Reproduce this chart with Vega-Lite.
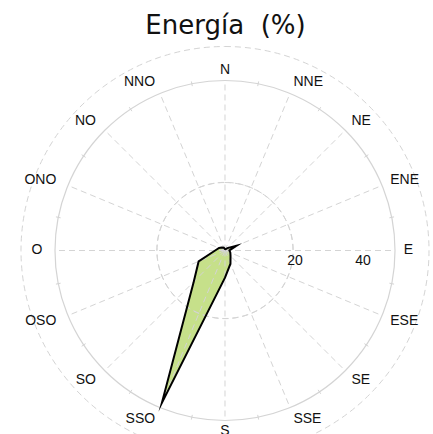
{
  "$schema": "https://vega.github.io/schema/vega-lite/v6.json",
  "width": 433,
  "height": 389,
  "autosize": {"type": "none"},
  "padding": {"left": 0, "right": 0, "top": 45, "bottom": 0},
  "background": "white",
  "title": {"text": "Energía\u00a0\u00a0(%)", "font": "DejaVu Sans", "fontSize": 26, "fontWeight": "normal", "color": "#111111", "anchor": "middle", "frame": "group", "baseline": "alphabetic", "offset": -16, "dx": 9},
  "config": {"view": {"stroke": null}},
  "datasets": {
    "energia": [
      {"dir": "N", "a": 0, "e": 0.4},
      {"dir": "NNE", "a": 22.5, "e": 0.4},
      {"dir": "NE", "a": 45, "e": 1.0},
      {"dir": "ENE", "a": 67.5, "e": 3.7},
      {"dir": "E", "a": 90, "e": 1.3},
      {"dir": "ESE", "a": 112.5, "e": 1.7},
      {"dir": "SE", "a": 135, "e": 2.3},
      {"dir": "SSE", "a": 157.5, "e": 4.2},
      {"dir": "S", "a": 180, "e": 8.0},
      {"dir": "SSO", "a": 202.5, "e": 48.5},
      {"dir": "SO", "a": 225, "e": 13.0},
      {"dir": "OSO", "a": 247.5, "e": 8.4},
      {"dir": "O", "a": 270, "e": 2.9},
      {"dir": "ONO", "a": 292.5, "e": 1.9},
      {"dir": "NO", "a": 315, "e": 1.2},
      {"dir": "NNO", "a": 337.5, "e": 0.9}
    ],
    "anillos": [{"r": 20}, {"r": 40}],
    "borde": [{"r": 50}],
    "marcas": [
      {"a": 11.25}, {"a": 33.75}, {"a": 56.25}, {"a": 78.75},
      {"a": 101.25}, {"a": 123.75}, {"a": 146.25}, {"a": 168.75},
      {"a": 191.25}, {"a": 213.75}, {"a": 236.25}, {"a": 258.75},
      {"a": 281.25}, {"a": 303.75}, {"a": 326.25}, {"a": 348.75}
    ],
    "escala": [{"t": "20", "r": 20}, {"t": "40", "r": 40}]
  },
  "layer": [
    {
      "data": {"name": "energia"},
      "transform": [
        {"calculate": "datum.e * sin(datum.a * PI / 180)", "as": "px"},
        {"calculate": "datum.e * cos(datum.a * PI / 180)", "as": "py"}
      ],
      "mark": {"type": "line", "interpolate": "linear-closed", "fill": "#c6e08a", "strokeWidth": 0},
      "encoding": {
        "x": {"field": "px", "type": "quantitative", "scale": {"domain": [-66.18, 61.18], "nice": false, "zero": false}, "axis": null},
        "y": {"field": "py", "type": "quantitative", "scale": {"domain": [-53.97, 60.44], "nice": false, "zero": false}, "axis": null},
        "order": {"field": "a", "type": "quantitative"}
      }
    },
    {
      "data": {"name": "anillos"},
      "transform": [{"calculate": "0", "as": "c"}],
      "mark": {"type": "arc", "theta": 0, "theta2": 7, "fill": null, "stroke": "#d4d4d4", "strokeWidth": 1, "strokeDash": [6, 4]},
      "encoding": {
        "x": {"field": "c", "type": "quantitative", "scale": {"domain": [-66.18, 61.18], "nice": false, "zero": false}, "axis": null},
        "y": {"field": "c", "type": "quantitative", "scale": {"domain": [-53.97, 60.44], "nice": false, "zero": false}, "axis": null},
        "radius": {"field": "r", "type": "quantitative", "scale": {"type": "linear", "domain": [0, 50], "range": [0, 170], "zero": true}, "legend": null}
      }
    },
    {
      "data": {"name": "borde"},
      "transform": [{"calculate": "0", "as": "c"}],
      "mark": {"type": "arc", "theta": 0, "theta2": 7, "fill": null, "stroke": "#d4d4d4", "strokeWidth": 1.2},
      "encoding": {
        "x": {"field": "c", "type": "quantitative", "scale": {"domain": [-66.18, 61.18], "nice": false, "zero": false}, "axis": null},
        "y": {"field": "c", "type": "quantitative", "scale": {"domain": [-53.97, 60.44], "nice": false, "zero": false}, "axis": null},
        "radius": {"field": "r", "type": "quantitative", "scale": {"type": "linear", "domain": [0, 50], "range": [0, 170], "zero": true}, "legend": null}
      }
    },
    {
      "data": {"name": "energia"},
      "transform": [
        {"calculate": "50 * sin(datum.a * PI / 180)", "as": "sx"},
        {"calculate": "50 * cos(datum.a * PI / 180)", "as": "sy"},
        {"calculate": "0", "as": "c"}
      ],
      "mark": {"type": "rule", "stroke": "#d4d4d4", "strokeWidth": 1, "strokeDash": [6, 4]},
      "encoding": {
        "x": {"field": "c", "type": "quantitative", "scale": {"domain": [-66.18, 61.18], "nice": false, "zero": false}, "axis": null},
        "y": {"field": "c", "type": "quantitative", "scale": {"domain": [-53.97, 60.44], "nice": false, "zero": false}, "axis": null},
        "x2": {"field": "sx"},
        "y2": {"field": "sy"}
      }
    },
    {
      "data": {"name": "marcas"},
      "transform": [
        {"calculate": "49.3 * sin(datum.a * PI / 180)", "as": "ax"},
        {"calculate": "49.3 * cos(datum.a * PI / 180)", "as": "ay"},
        {"calculate": "50.7 * sin(datum.a * PI / 180)", "as": "bx"},
        {"calculate": "50.7 * cos(datum.a * PI / 180)", "as": "by"}
      ],
      "mark": {"type": "rule", "stroke": "#d4d4d4", "strokeWidth": 1},
      "encoding": {
        "x": {"field": "ax", "type": "quantitative", "scale": {"domain": [-66.18, 61.18], "nice": false, "zero": false}, "axis": null},
        "y": {"field": "ay", "type": "quantitative", "scale": {"domain": [-53.97, 60.44], "nice": false, "zero": false}, "axis": null},
        "x2": {"field": "bx"},
        "y2": {"field": "by"}
      }
    },
    {
      "data": {"name": "energia"},
      "transform": [
        {"calculate": "datum.e * sin(datum.a * PI / 180)", "as": "px"},
        {"calculate": "datum.e * cos(datum.a * PI / 180)", "as": "py"}
      ],
      "mark": {"type": "line", "interpolate": "linear-closed", "fill": null, "stroke": "#000000", "strokeWidth": 2, "strokeJoin": "miter", "strokeMiterLimit": 20},
      "encoding": {
        "x": {"field": "px", "type": "quantitative", "scale": {"domain": [-66.18, 61.18], "nice": false, "zero": false}, "axis": null},
        "y": {"field": "py", "type": "quantitative", "scale": {"domain": [-53.97, 60.44], "nice": false, "zero": false}, "axis": null},
        "order": {"field": "a", "type": "quantitative"}
      }
    },
    {
      "data": {"name": "energia"},
      "transform": [
        {"filter": "datum.a > 0 && datum.a < 180"},
        {"calculate": "52.6 * sin(datum.a * PI / 180)", "as": "lx"},
        {"calculate": "53.8 * cos(datum.a * PI / 180)", "as": "ly"}
      ],
      "mark": {"type": "text", "font": "Liberation Sans", "fontSize": 14, "fill": "#111111", "align": "left", "baseline": "middle"},
      "encoding": {
        "x": {"field": "lx", "type": "quantitative", "scale": {"domain": [-66.18, 61.18], "nice": false, "zero": false}, "axis": null},
        "y": {"field": "ly", "type": "quantitative", "scale": {"domain": [-53.97, 60.44], "nice": false, "zero": false}, "axis": null},
        "text": {"field": "dir"}
      }
    },
    {
      "data": {"name": "energia"},
      "transform": [
        {"filter": "datum.a > 180"},
        {"calculate": "53.7 * sin(datum.a * PI / 180)", "as": "lx"},
        {"calculate": "53.8 * cos(datum.a * PI / 180)", "as": "ly"}
      ],
      "mark": {"type": "text", "font": "Liberation Sans", "fontSize": 14, "fill": "#111111", "align": "right", "baseline": "middle"},
      "encoding": {
        "x": {"field": "lx", "type": "quantitative", "scale": {"domain": [-66.18, 61.18], "nice": false, "zero": false}, "axis": null},
        "y": {"field": "ly", "type": "quantitative", "scale": {"domain": [-53.97, 60.44], "nice": false, "zero": false}, "axis": null},
        "text": {"field": "dir"}
      }
    },
    {
      "data": {"name": "energia"},
      "transform": [
        {"filter": "datum.a == 0 || datum.a == 180"},
        {"calculate": "0", "as": "lx"},
        {"calculate": "53 * cos(datum.a * PI / 180)", "as": "ly"}
      ],
      "mark": {"type": "text", "font": "Liberation Sans", "fontSize": 14, "fill": "#111111", "align": "center", "baseline": "middle"},
      "encoding": {
        "x": {"field": "lx", "type": "quantitative", "scale": {"domain": [-66.18, 61.18], "nice": false, "zero": false}, "axis": null},
        "y": {"field": "ly", "type": "quantitative", "scale": {"domain": [-53.97, 60.44], "nice": false, "zero": false}, "axis": null},
        "text": {"field": "dir"}
      }
    },
    {
      "data": {"name": "escala"},
      "transform": [{"calculate": "0", "as": "c"}],
      "mark": {"type": "text", "font": "Liberation Sans", "fontSize": 14, "fill": "#111111", "align": "center", "baseline": "middle", "dx": 2, "dy": 11},
      "encoding": {
        "x": {"field": "r", "type": "quantitative", "scale": {"domain": [-66.18, 61.18], "nice": false, "zero": false}, "axis": null},
        "y": {"field": "c", "type": "quantitative", "scale": {"domain": [-53.97, 60.44], "nice": false, "zero": false}, "axis": null},
        "text": {"field": "t"}
      }
    }
  ]
}
